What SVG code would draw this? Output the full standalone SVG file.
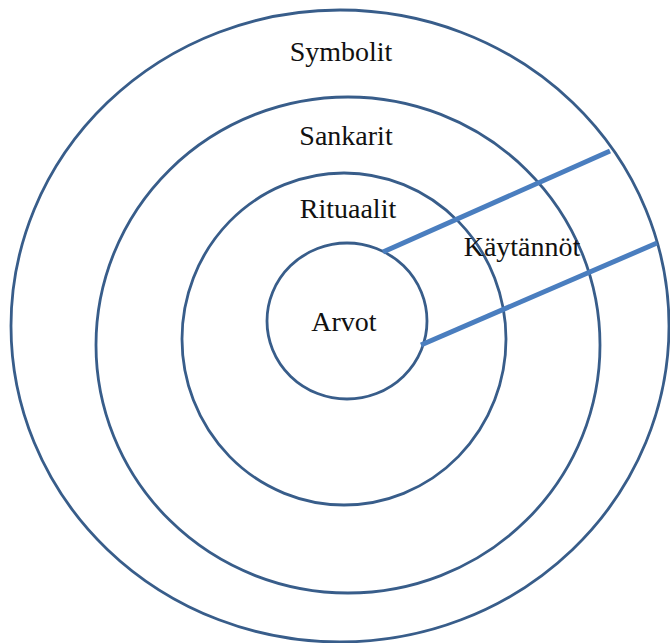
<svg xmlns="http://www.w3.org/2000/svg" width="670" height="643" viewBox="0 0 670 643">
<style>
.ring{fill:none;stroke:#385D8A;stroke-width:2.8}
.div{stroke:#4A7EBF;stroke-width:5;stroke-linecap:butt;fill:none}
.lbl{font-family:"Liberation Serif","Times New Roman",serif;font-size:28px;fill:#111;text-anchor:middle}
</style>
<rect width="670" height="643" fill="#fff"/>
<g id="symbolit">
<ellipse class="ring" cx="340" cy="326" rx="329" ry="316"/>
<text class="lbl" x="341" y="61">Symbolit</text>
</g>
<g id="sankarit">
<ellipse class="ring" cx="348" cy="345" rx="252" ry="248"/>
<text class="lbl" x="346" y="145">Sankarit</text>
</g>
<g id="rituaalit">
<ellipse class="ring" cx="344" cy="339" rx="162" ry="166"/>
<text class="lbl" x="348" y="218">Rituaalit</text>
</g>
<g id="arvot">
<ellipse class="ring" cx="347" cy="321" rx="80" ry="78"/>
<text class="lbl" x="344" y="331">Arvot</text>
</g>
<g id="kaytannot">
<text class="lbl" x="522" y="256">Käytännöt</text>
</g>
<g id="connectors">
<line class="div" x1="383" y1="252" x2="610" y2="151"/>
<line class="div" x1="421" y1="345" x2="657" y2="243"/>
</g>
</svg>
